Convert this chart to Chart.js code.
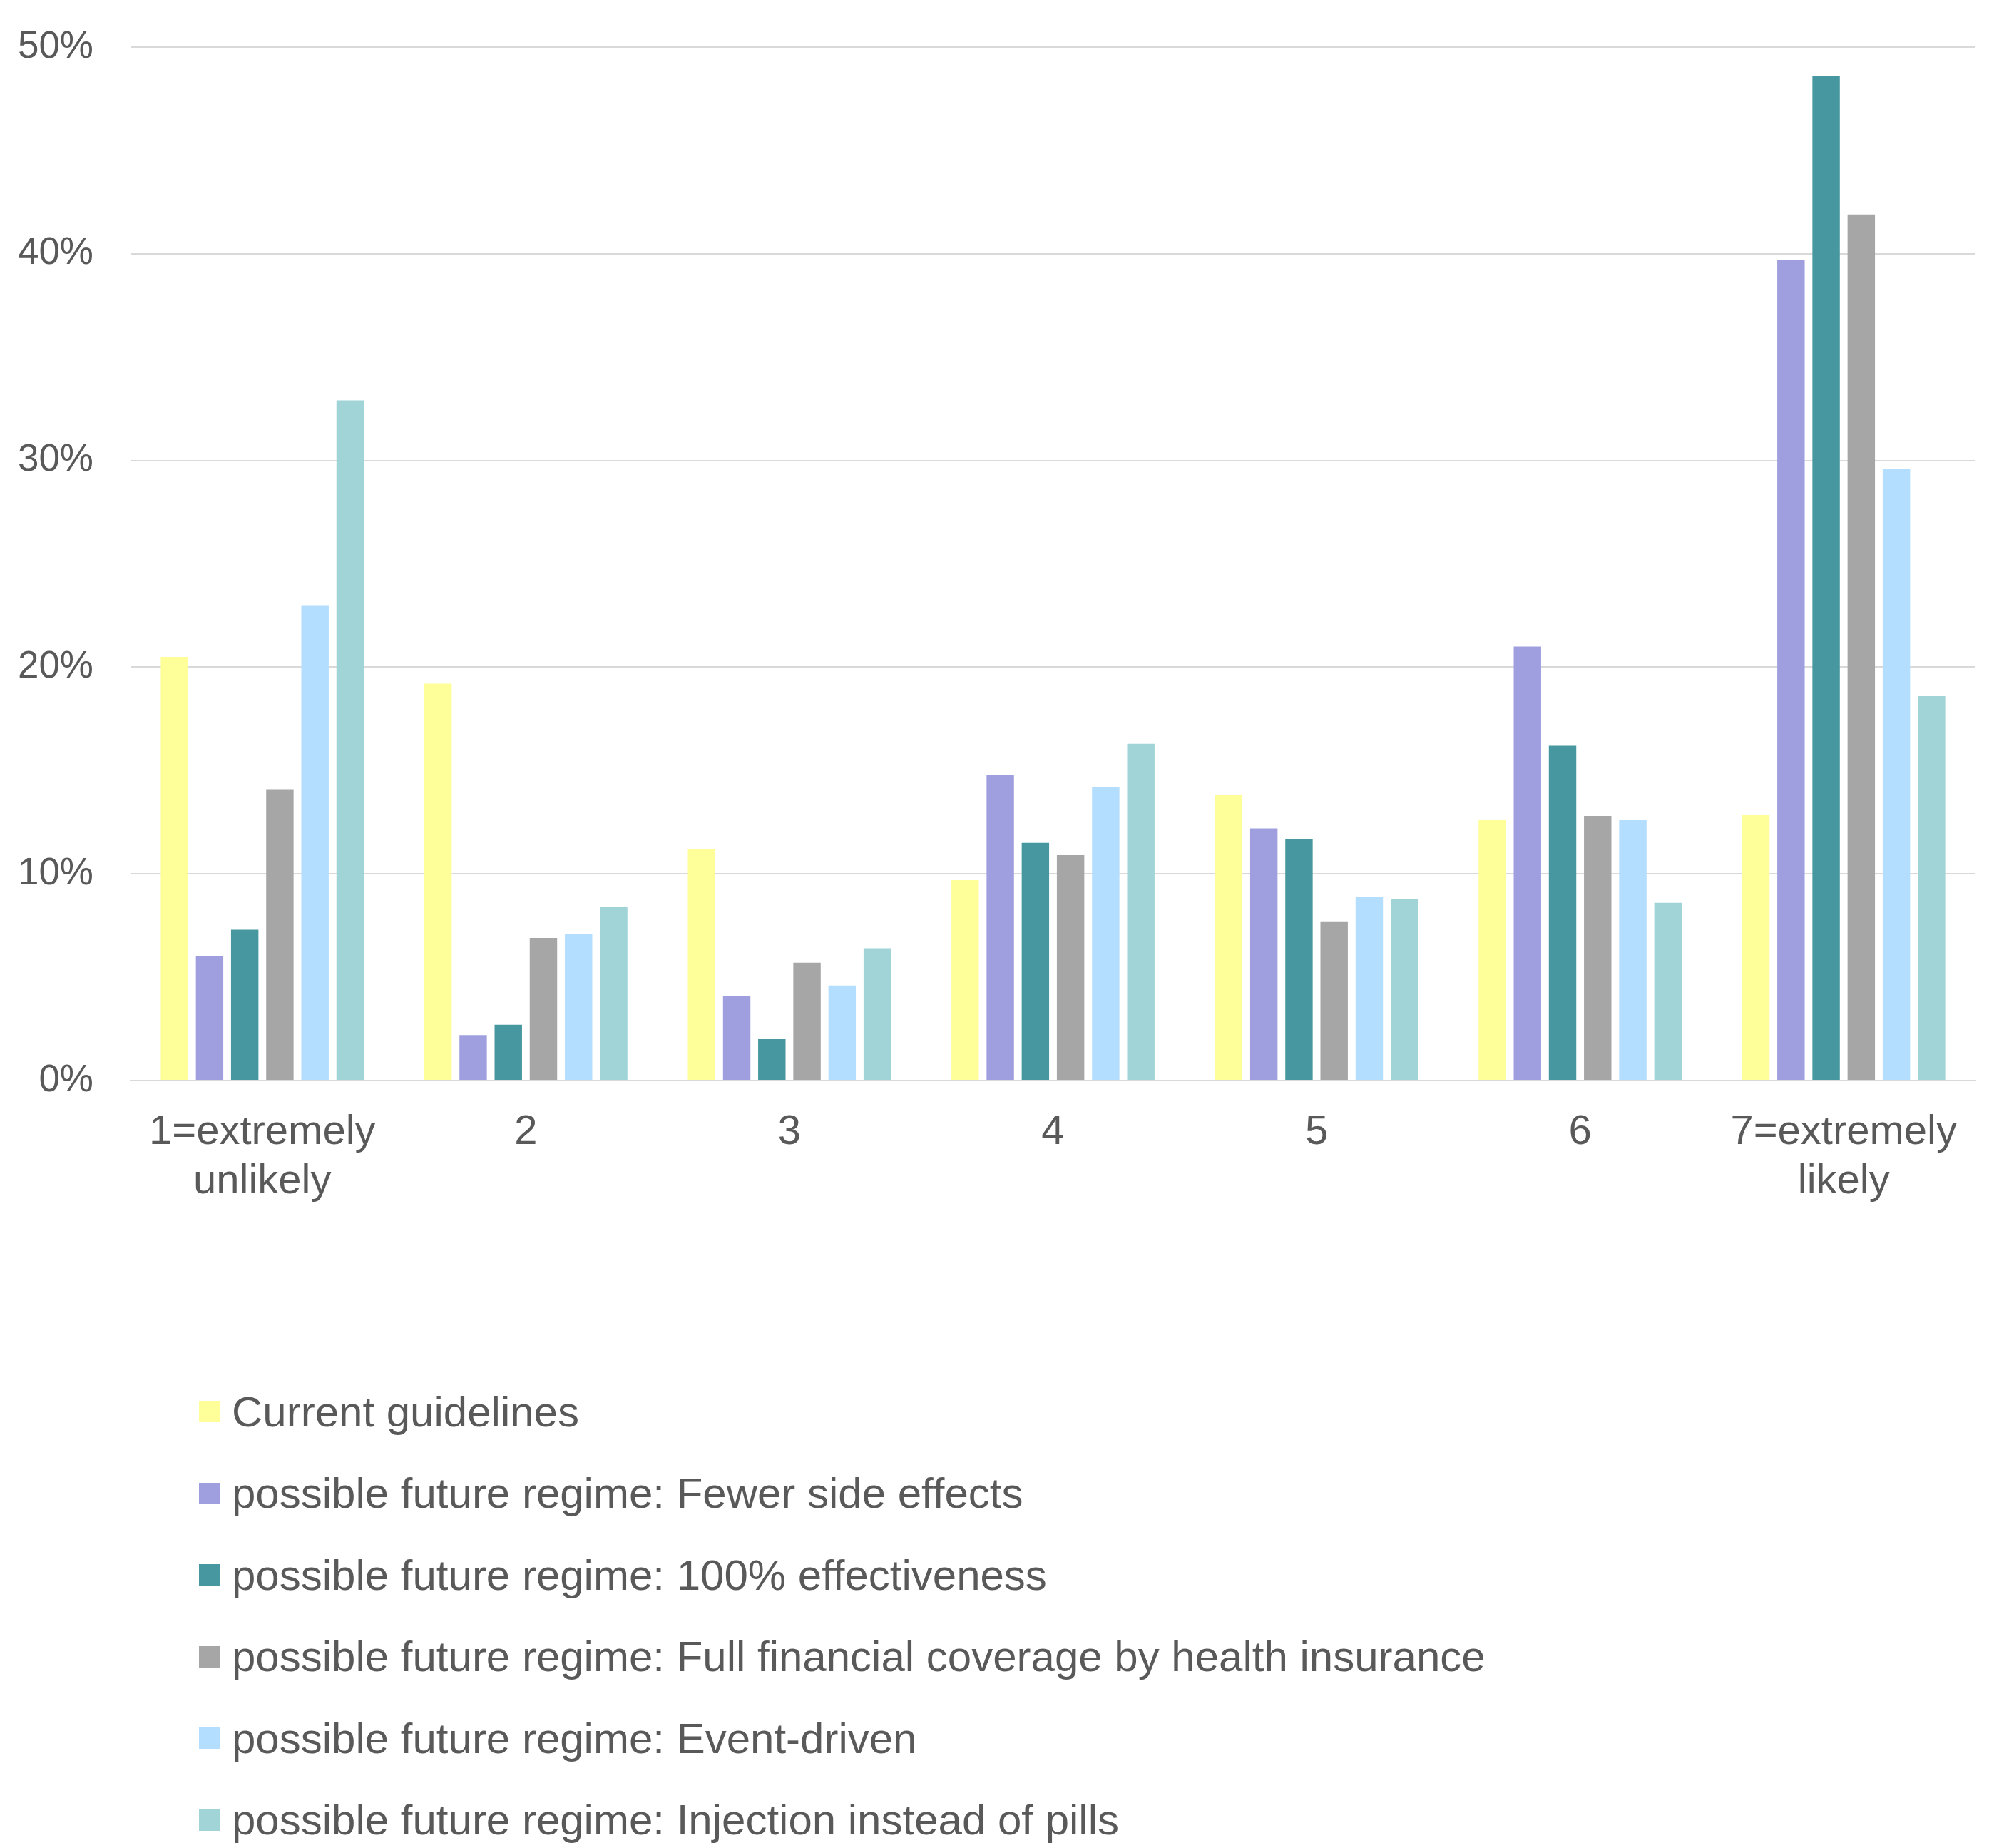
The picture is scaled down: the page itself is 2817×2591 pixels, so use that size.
<!DOCTYPE html>
<html>
<head>
<meta charset="utf-8">
<script src="https://cdn.jsdelivr.net/npm/chart.js@4"></script>
<style>
    body { margin: 0; background: #fff; }
    #wrap { width: 2817px; height: 2591px; position: relative; }
    #legend { position: absolute; left: 279px; top: 1922px; font-family: "Liberation Sans", Arial, sans-serif; font-size: 60px; color: #595959; }
    .item { display: flex; align-items: center; height: 114.5px; }
    .box { width: 30px; height: 30px; margin-right: 16px; }
</style>
</head>
<body>
<div id="wrap">
    <canvas id="chart" width="2817" height="1760"></canvas>
    <div id="legend"></div>
</div>
<script>
var categorias = [['1=extremely', 'unlikely'], '2', '3', '4', '5', '6', ['7=extremely', 'likely']];
var nomesSeries = [
    'Current guidelines',
    'possible future regime: Fewer side effects',
    'possible future regime: 100% effectiveness',
    'possible future regime: Full financial coverage by health insurance',
    'possible future regime: Event-driven',
    'possible future regime: Injection instead of pills'
];
var cores = ['#FFFF99', '#9F9FDF', '#46979F', '#A6A6A6', '#B4DEFF', '#A0D4D7'];

var atuais = [20.5, 19.2, 11.2, 9.7, 13.8, 12.6, 12.85];
var menosEfeitos = [6.0, 2.2, 4.1, 14.8, 12.2, 21.0, 39.7];
var eficacia100 = [7.3, 2.7, 2.0, 11.5, 11.7, 16.2, 48.6];
var coberturaTotal = [14.1, 6.9, 5.7, 10.9, 7.7, 12.8, 41.9];
var porEvento = [23.0, 7.1, 4.6, 14.2, 8.9, 12.6, 29.6];
var injecao = [32.9, 8.4, 6.4, 16.3, 8.8, 8.6, 18.6];

var valores = [atuais, menosEfeitos, eficacia100, coberturaTotal, porEvento, injecao];
var fonte = '"Liberation Sans", Arial, sans-serif';

var ctx = document.getElementById('chart').getContext('2d');
var grafico = new Chart(ctx, {
    type: 'bar',
    data: {
        labels: categorias,
        datasets: valores.map(function (v, i) {
            return {
                label: nomesSeries[i],
                data: v,
                backgroundColor: cores[i],
                categoryPercentage: 0.8,
                barPercentage: 0.78
            };
        })
    },
    options: {
        responsive: false,
        animation: false,
        layout: { padding: { top: 66, right: 47, left: 0, bottom: 0 } },
        plugins: {
            legend: { display: false },
            tooltip: { enabled: false }
        },
        scales: {
            x: {
                grid: { display: false, drawTicks: false },
                border: { color: '#D9D9D9', width: 2 },
                ticks: { color: '#595959', font: { family: fonte, size: 58, lineHeight: 1.2 }, padding: 38, maxRotation: 0 },
                afterFit: function (s) { s.height = 245; }
            },
            y: {
                min: 0,
                max: 50,
                grid: { color: '#D9D9D9', lineWidth: 2, drawTicks: false },
                border: { display: false },
                ticks: {
                    stepSize: 10,
                    color: '#595959',
                    font: { family: fonte, size: 53 },
                    padding: 52,
                    callback: function (v) { return v + '%'; }
                },
                afterFit: function (s) {
                    s.width = 183;
                    // o padding dos ticks nao deve empurrar a area do grafico para baixo
                    s.paddingTop = 0;
                    s.paddingBottom = 0;
                }
            }
        }
    }
});

// legenda em HTML, um item por linha
var legenda = document.getElementById('legend');
grafico.data.datasets.forEach(function (ds) {
    var item = document.createElement('div');
    item.className = 'item';
    var caixa = document.createElement('span');
    caixa.className = 'box';
    caixa.style.background = ds.backgroundColor;
    var texto = document.createElement('span');
    texto.textContent = ds.label;
    item.appendChild(caixa);
    item.appendChild(texto);
    legenda.appendChild(item);
});
</script>
</body>
</html>
